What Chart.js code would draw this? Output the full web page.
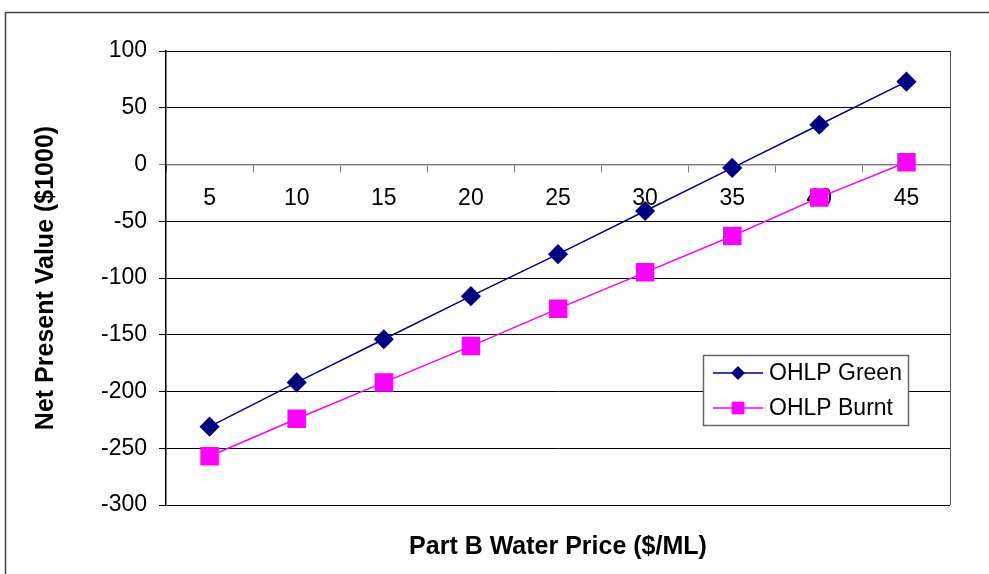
<!DOCTYPE html>
<html>
<head>
<meta charset="utf-8">
<script src="https://cdn.jsdelivr.net/npm/chart.js@4.4.1/dist/chart.umd.min.js"></script>
<style>
  html, body { margin: 0; padding: 0; background: #fff; }
  #wrap { width: 989px; height: 574px; position: relative; }
</style>
</head>
<body>
<div id="wrap"><canvas id="myChart" width="989" height="574"></canvas></div>
<script>
// water price categories ($/ML)
const prices = ['5', '10', '15', '20', '25', '30', '35', '40', '45']
// NPV ($1000)
const ohlpGreen = [-231, -192, -154, -116, -79, -41, -3, 35, 73]
const ohlpBurnt = [-257, -224, -192, -160, -127, -95, -63, -29, 2]
const yTicks = [100, 50, 0, -50, -100, -150, -200, -250, -300]

const FONT = "'Liberation Sans', Arial, sans-serif"

// outer frame + plot border
const framePlugin = {
  id: 'frame',
  beforeDraw(chart) {
    const ctx = chart.ctx
    ctx.save()
    ctx.fillStyle = '#fff'
    ctx.fillRect(0, 0, chart.width, chart.height)
    ctx.strokeStyle = '#444'
    ctx.lineWidth = 1.5
    ctx.beginPath()
    ctx.moveTo(5.5, chart.height)
    ctx.lineTo(5.5, 12.5)
    ctx.lineTo(chart.width, 12.5)
    ctx.stroke()
    ctx.restore()
  },
  afterDraw(chart) {
    const ctx = chart.ctx
    const a = chart.chartArea
    ctx.save()
    ctx.strokeStyle = '#555'
    ctx.lineWidth = 1
    ctx.beginPath()
    ctx.moveTo(a.right + 0.5, a.top)
    ctx.lineTo(a.right + 0.5, a.bottom)
    ctx.stroke()
    ctx.restore()
  }
}

function marker(ctx, style, x, y, r, color) {
  ctx.fillStyle = color
  ctx.beginPath()
  if (style === 'rectRot') {
    ctx.moveTo(x - r, y)
    ctx.lineTo(x, y - r)
    ctx.lineTo(x + r, y)
    ctx.lineTo(x, y + r)
    ctx.closePath()
  } else {
    const s = r * Math.SQRT1_2
    ctx.rect(x - s, y - s, 2 * s, 2 * s)
  }
  ctx.fill()
}

// legend box sitting inside the plot, like the Excel one
const boxLegend = {
  id: 'boxLegend',
  afterDraw(chart) {
    const ctx = chart.ctx
    const a = chart.chartArea
    const x = a.right - 247, y = a.top + 304, w = 205, h = 70
    ctx.save()
    ctx.fillStyle = '#fff'
    ctx.fillRect(x, y, w, h)
    ctx.strokeStyle = '#666'
    ctx.lineWidth = 1.5
    ctx.strokeRect(x + 0.5, y + 0.5, w, h)
    chart.data.datasets.forEach((ds, i) => {
      const cy = y + 18 + i * 35
      ctx.strokeStyle = ds.borderColor
      ctx.lineWidth = 1.5
      ctx.beginPath()
      ctx.moveTo(x + 10, cy)
      ctx.lineTo(x + 60, cy)
      ctx.stroke()
      marker(ctx, ds.pointStyle, x + 35, cy, ds.pointStyle === 'rectRot' ? 7 : 9, ds.pointBackgroundColor)
      ctx.fillStyle = '#000'
      ctx.font = '23px ' + FONT
      ctx.textBaseline = 'middle'
      ctx.textAlign = 'left'
      ctx.fillText(ds.label, x + 66, cy + 1)
    })
    ctx.restore()
  }
}

const data = {
  labels: prices,
  datasets: [{
    label: 'OHLP Green',
    data: ohlpGreen,
    borderColor: '#000080',
    backgroundColor: '#000080',
    pointBackgroundColor: '#000080',
    pointBorderColor: '#000080',
    pointStyle: 'rectRot',
    pointRadius: 9,
    borderWidth: 1.5,
    tension: 0,
    xAxisID: 'x',
    yAxisID: 'y'
  }, {
    label: 'OHLP Burnt',
    data: ohlpBurnt,
    borderColor: '#FF00FF',
    backgroundColor: '#FF00FF',
    pointBackgroundColor: '#FF00FF',
    pointBorderColor: '#FF00FF',
    pointStyle: 'rect',
    pointRadius: 12,
    borderWidth: 1.5,
    tension: 0,
    xAxisID: 'x',
    yAxisID: 'y'
  }]
}

const config = {
  type: 'line',
  data: data,
  options: {
    responsive: false,
    animation: false,
    layout: { padding: { left: 0, top: 51, right: 39, bottom: 0 } },
    plugins: {
      legend: { display: false },
      tooltip: { enabled: false }
    },
    scales: {
      x: {
        type: 'category',
        position: { y: 0 },
        offset: true,
        afterFit: s => { s.height = 0 },
        grid: { display: true, drawOnChartArea: false, drawTicks: true, tickLength: 7, offset: true, color: '#808080' },
        border: { display: true, color: '#808080', width: 1.5 },
        ticks: { color: '#000', font: { family: FONT, size: 23 }, padding: 13, maxRotation: 0, autoSkip: false }
      },
      x2: {
        type: 'category',
        position: 'bottom',
        offset: true,
        afterFit: s => { s.height = 69 },
        grid: { display: false },
        border: { display: false },
        ticks: { display: false },
        title: {
          display: true,
          text: 'Part B Water Price ($/ML)',
          color: '#000',
          font: { family: FONT, size: 25, weight: 'bold' },
          padding: { top: 0, bottom: 12 }
        }
      },
      y: {
        min: -300,
        max: 100,
        afterFit: s => { s.width = 166 },
        afterBuildTicks: s => { s.ticks = yTicks.map(v => ({ value: v })) },
        grid: {
          color: c => (c.tick && c.tick.value === 0) ? '#808080' : '#000',
          lineWidth: 1,
          tickLength: 7
        },
        border: { display: true, color: '#000', width: 1.5 },
        ticks: { color: '#000', font: { family: FONT, size: 23 }, padding: 12 },
        title: {
          display: true,
          text: 'Net Present Value ($1000)',
          color: '#000',
          font: { family: FONT, size: 25, weight: 'bold' },
          padding: { top: 31, bottom: 0 }
        }
      }
    }
  },
  plugins: [framePlugin, boxLegend]
}

const myChart = new Chart(document.getElementById('myChart'), config)
</script>
</body>
</html>
